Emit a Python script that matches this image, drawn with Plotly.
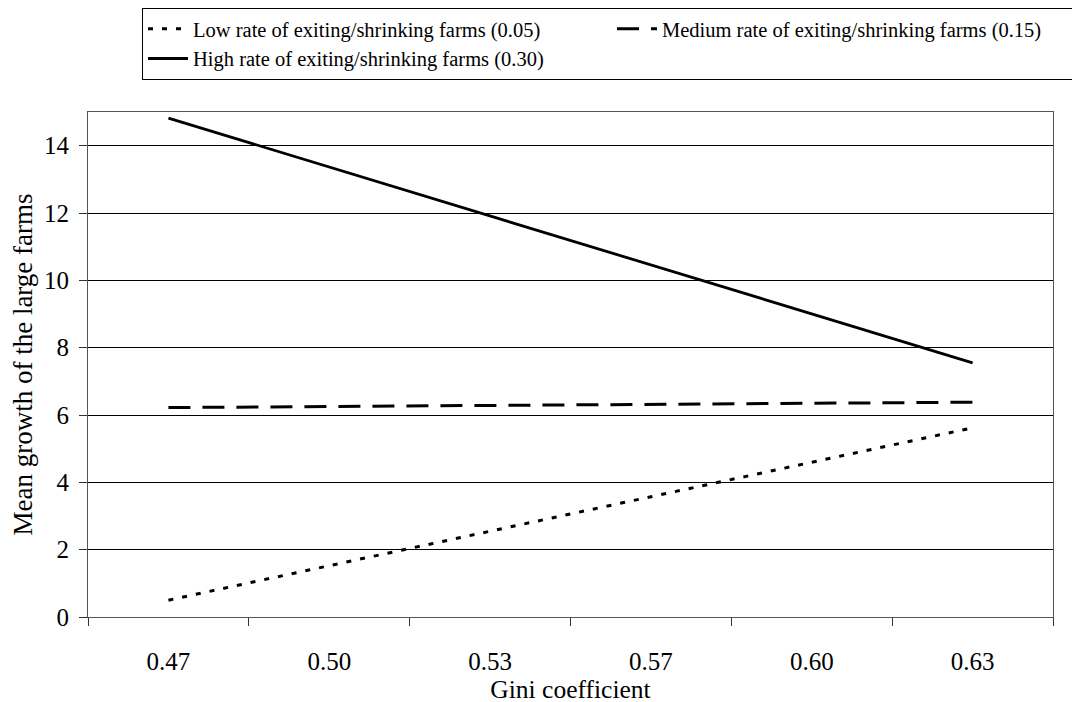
import plotly.graph_objects as go

gini_labels = ["0.47", "0.50", "0.53", "0.57", "0.60", "0.63"]
x_points = ["0.47", "0.63"]
low_vals = [0.50, 5.62]
medium_vals = [6.22, 6.38]
high_vals = [14.82, 7.55]

series_names = [
    "Low rate of exiting/shrinking farms (0.05)",
    "Medium rate of exiting/shrinking farms (0.15)",
    "High rate of exiting/shrinking farms (0.30)",
]

font_family = "Liberation Serif"

fig = go.Figure()
fig.add_trace(go.Scatter(x=x_points, y=low_vals, mode="lines", name=series_names[0],
                         line=dict(color="black", width=3, dash="5px,9px")))
fig.add_trace(go.Scatter(x=x_points, y=medium_vals, mode="lines", name=series_names[1],
                         line=dict(color="black", width=3, dash="22px,12px")))
fig.add_trace(go.Scatter(x=x_points, y=high_vals, mode="lines", name=series_names[2],
                         line=dict(color="black", width=2.8)))

fig.update_layout(
    width=1080, height=702,
    margin=dict(l=80, r=35, t=104, b=93),
    paper_bgcolor="white", plot_bgcolor="white",
    font=dict(family=font_family, size=25, color="black"),
    showlegend=True,
    legend=dict(
        orientation="h",
        x=134 / 1080, xanchor="left", y=1.0, yanchor="top",
        xref="container", yref="container",
        entrywidth=414, entrywidthmode="pixels",
        bordercolor="black", borderwidth=1,
        font=dict(family=font_family, size=20.5, color="black"),
        tracegroupgap=0, itemwidth=40,
    ),
    xaxis=dict(
        type="category", categoryorder="array", categoryarray=gini_labels,
        tickmode="array", tickvals=gini_labels, ticktext=gini_labels,
        range=[-0.5, 5.5], tickson="boundaries",
        ticks="outside", ticklen=8, tickcolor="#333",
        ticklabelstandoff=22, automargin=False,
        showline=True, linecolor="#555", linewidth=1, mirror=True,
        showgrid=False, zeroline=False,
        title=dict(text="Gini coefficient", font=dict(size=25.5), standoff=5),
        tickfont=dict(size=25),
    ),
    yaxis=dict(
        range=[0, 15], tickmode="array", tickvals=[0, 2, 4, 6, 8, 10, 12, 14],
        ticks="outside", ticklen=8, tickcolor="#333",
        ticklabelstandoff=5, automargin=False,
        showline=True, linecolor="#555", linewidth=1, mirror=True,
        showgrid=True, gridcolor="black", gridwidth=1,
        zeroline=False,
        title=dict(text="Mean growth of the large farms", font=dict(size=27), standoff=12),
        tickfont=dict(size=25),
    ),
)

fig.write_html("out.html")
